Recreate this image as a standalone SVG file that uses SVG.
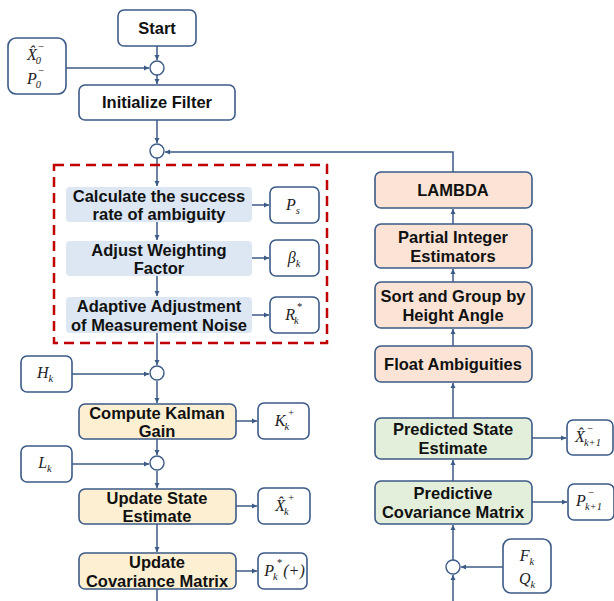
<svg xmlns="http://www.w3.org/2000/svg" width="614" height="601" viewBox="0 0 614 601">
<defs>
<marker id="ah" markerWidth="6" markerHeight="6" refX="5" refY="3" orient="auto" markerUnits="userSpaceOnUse">
<path d="M0,0.5 L5,3 L0,5.5 Z" fill="#3b5a86"/>
</marker>
<style>
.b{stroke:#3b5a86;stroke-width:1.6}
.w{fill:#ffffff}
.y{fill:#fdf0d2}
.p{fill:#fbe4d6}
.g{fill:#e3efda}
.l{fill:#dce7f3;stroke:none}
.t{font-family:"Liberation Sans",Arial,sans-serif;font-weight:bold;font-size:16.5px;fill:#111;text-anchor:middle}
.m{font-family:"Liberation Serif","DejaVu Serif",serif;font-style:italic;font-size:16px;fill:#222;text-anchor:middle}
.s{font-size:10.5px}
.c{fill:#fff;stroke:#3b5a86;stroke-width:1.4}
.e{fill:none;stroke:#3b5a86;stroke-width:1.5}
</style>
</defs>
<rect width="614" height="601" fill="#ffffff"/>

<g id="connectors">
<path class="e" d="M157,46 V60" marker-end="url(#ah)"/>
<path class="e" d="M66,68 H149" marker-end="url(#ah)"/>
<path class="e" d="M157,75 V84" marker-end="url(#ah)"/>
<path class="e" d="M157,120 V143" marker-end="url(#ah)"/>
<path class="e" d="M453,172 V152 H165" marker-end="url(#ah)"/>
<path class="e" d="M157,158 V186" marker-end="url(#ah)"/>
<path class="e" d="M157,222 V240" marker-end="url(#ah)"/>
<path class="e" d="M157,276 V296" marker-end="url(#ah)"/>
<path class="e" d="M157,333 V365" marker-end="url(#ah)"/>
<path class="e" d="M72,374 H149" marker-end="url(#ah)"/>
<path class="e" d="M157,381 V403" marker-end="url(#ah)"/>
<path class="e" d="M157,439 V455" marker-end="url(#ah)"/>
<path class="e" d="M72,464 H149" marker-end="url(#ah)"/>
<path class="e" d="M157,471 V488" marker-end="url(#ah)"/>
<path class="e" d="M157,524 V552" marker-end="url(#ah)"/>
<path class="e" d="M157,589 V601"/>
<path class="e" d="M252,205 H269" marker-end="url(#ah)"/>
<path class="e" d="M252,258 H269" marker-end="url(#ah)"/>
<path class="e" d="M252,315 H269" marker-end="url(#ah)"/>
<path class="e" d="M236,421 H257" marker-end="url(#ah)"/>
<path class="e" d="M236,506 H257" marker-end="url(#ah)"/>
<path class="e" d="M236,571 H257" marker-end="url(#ah)"/>
<path class="e" d="M453,601 V575" marker-end="url(#ah)"/>
<path class="e" d="M503,567 H461" marker-end="url(#ah)"/>
<path class="e" d="M453,560 V525" marker-end="url(#ah)"/>
<path class="e" d="M453,481 V460" marker-end="url(#ah)"/>
<path class="e" d="M453,418 V383" marker-end="url(#ah)"/>
<path class="e" d="M453,346 V329" marker-end="url(#ah)"/>
<path class="e" d="M453,282 V269" marker-end="url(#ah)"/>
<path class="e" d="M453,224 V209" marker-end="url(#ah)"/>
<path class="e" d="M532,438 H566" marker-end="url(#ah)"/>
<path class="e" d="M532,502 H567" marker-end="url(#ah)"/>
</g>

<g id="junctions">
<circle class="c" cx="157" cy="68" r="7"/>
<circle class="c" cx="157" cy="151" r="7"/>
<circle class="c" cx="157" cy="373" r="7"/>
<circle class="c" cx="157" cy="463" r="7"/>
<circle class="c" cx="453" cy="567" r="7"/>
</g>

<rect id="adaptive-region" x="54" y="165" width="273" height="178" fill="none" stroke="#c00000" stroke-width="2.5" stroke-dasharray="10,6"/>

<g id="start"><rect class="b w" x="118" y="10" width="78" height="36" rx="6"/><text class="t" x="157" y="34" font-size="17">Start</text></g>
<g id="init-input"><rect class="b w" x="8" y="38" width="58" height="56" rx="8"/>
<text class="m" x="34" y="60">X̂<tspan class="s" dx="-1" dy="4">0</tspan></text><text class="m s" x="41" y="50">−</text>
<text class="m" x="34" y="84">P<tspan class="s" dx="-1" dy="4">0</tspan></text><text class="m s" x="41" y="74">−</text></g>
<g id="init"><rect class="b w" x="79" y="85" width="156" height="35" rx="6"/><text class="t" x="157" y="108">Initialize Filter</text></g>

<g id="calc"><rect class="l" x="66" y="187" width="186" height="35" rx="4"/><text class="t" x="159" y="202">Calculate the success</text><text class="t" x="159" y="220">rate of ambiguity</text></g>
<g id="ps"><rect class="b w" x="270" y="187" width="49" height="36" rx="6"/><text class="m" x="293" y="210">P<tspan class="s" dy="4">s</tspan></text></g>
<g id="adjust"><rect class="l" x="66" y="241" width="186" height="35" rx="4"/><text class="t" x="159" y="256">Adjust Weighting</text><text class="t" x="159" y="274">Factor</text></g>
<g id="beta"><rect class="b w" x="270" y="240" width="49" height="36" rx="6"/><text class="m" x="294" y="263">β<tspan class="s" dy="4">k</tspan></text></g>
<g id="adaptive"><rect class="l" x="66" y="297" width="186" height="36" rx="4"/><text class="t" x="159" y="312">Adaptive Adjustment</text><text class="t" x="159" y="331">of Measurement Noise</text></g>
<g id="rk"><rect class="b w" x="270" y="297" width="49" height="36" rx="6"/><text class="m" x="292" y="320">R<tspan class="s" dx="-1" dy="4">k</tspan></text><text class="m s" x="299" y="310">*</text></g>

<g id="hk"><rect class="b w" x="21" y="356" width="51" height="36" rx="6"/><text class="m" x="45" y="378">H<tspan class="s" dy="4">k</tspan></text></g>
<g id="compute"><rect class="b y" x="79" y="404" width="157" height="35" rx="6"/><text class="t" x="157" y="419">Compute Kalman</text><text class="t" x="157" y="437">Gain</text></g>
<g id="kk"><rect class="b w" x="258" y="403" width="51" height="36" rx="6"/><text class="m" x="282" y="426">K<tspan class="s" dx="-1" dy="4">k</tspan></text><text class="m s" x="291" y="416">+</text></g>
<g id="lk"><rect class="b w" x="21" y="446" width="51" height="36" rx="6"/><text class="m" x="45" y="468">L<tspan class="s" dy="4">k</tspan></text></g>
<g id="update-state"><rect class="b y" x="79" y="489" width="157" height="35" rx="6"/><text class="t" x="157" y="504">Update State</text><text class="t" x="157" y="522">Estimate</text></g>
<g id="xk"><rect class="b w" x="258" y="488" width="52" height="36" rx="6"/><text class="m" x="282" y="511">X̂<tspan class="s" dx="-1" dy="4">k</tspan></text><text class="m s" x="291" y="501">+</text></g>
<g id="update-cov"><rect class="b y" x="79" y="553" width="157" height="36" rx="6"/><text class="t" x="157" y="568">Update</text><text class="t" x="157" y="587">Covariance Matrix</text></g>
<g id="pk"><rect class="b w" x="258" y="553" width="49" height="36" rx="6"/><text class="m" x="271" y="576">P<tspan class="s" dx="-1" dy="4">k</tspan></text><text class="m s" x="279" y="566">*</text><text class="m" x="294" y="576" font-style="normal">(+)</text></g>

<g id="lambda"><rect class="b p" x="375" y="172" width="157" height="36" rx="6"/><text class="t" x="453" y="196">LAMBDA</text></g>
<g id="partial"><rect class="b p" x="375" y="224" width="157" height="44" rx="6"/><text class="t" x="453" y="243">Partial Integer</text><text class="t" x="453" y="262">Estimators</text></g>
<g id="sort"><rect class="b p" x="375" y="282" width="157" height="46" rx="6"/><text class="t" x="453" y="302">Sort and Group by</text><text class="t" x="453" y="321">Height Angle</text></g>
<g id="float"><rect class="b p" x="375" y="346" width="157" height="36" rx="6"/><text class="t" x="453" y="370">Float Ambiguities</text></g>
<g id="predicted-state"><rect class="b g" x="375" y="418" width="157" height="41" rx="6"/><text class="t" x="453" y="435">Predicted State</text><text class="t" x="453" y="454">Estimate</text></g>
<g id="xk1"><rect class="b w" x="567" y="420" width="46" height="35" rx="6"/><text class="m" x="588" y="442">X̂<tspan class="s" dx="-1" dy="4">k+1</tspan></text><text class="m s" x="590" y="432">−</text></g>
<g id="predictive-cov"><rect class="b g" x="375" y="481" width="157" height="43" rx="6"/><text class="t" x="453" y="499">Predictive</text><text class="t" x="453" y="518">Covariance Matrix</text></g>
<g id="pk1"><rect class="b w" x="568" y="484" width="46" height="36" rx="6"/><text class="m" x="589" y="506">P<tspan class="s" dx="-1" dy="4">k+1</tspan></text><text class="m s" x="591" y="496">−</text></g>
<g id="fq"><rect class="b w" x="503" y="539" width="48" height="54" rx="8"/><text class="m" x="527" y="561">F<tspan class="s" dy="4">k</tspan></text><text class="m" x="527" y="584">Q<tspan class="s" dy="4">k</tspan></text></g>
</svg>
